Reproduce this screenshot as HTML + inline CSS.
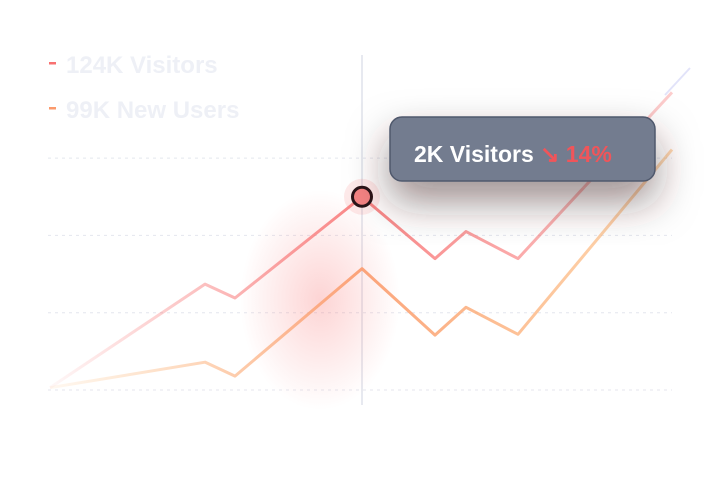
<!DOCTYPE html>
<html><head><meta charset="utf-8"><style>
html,body{margin:0;padding:0;background:#fff;width:724px;height:496px;overflow:hidden}
svg{display:block;font-family:"Liberation Sans",sans-serif}
</style></head><body>
<svg width="724" height="496" viewBox="0 0 724 496">
<defs>
<linearGradient id="gr" x1="50" y1="0" x2="672" y2="0" gradientUnits="userSpaceOnUse">
<stop offset="0" stop-color="#f87171" stop-opacity="0.05"/><stop offset="0.5" stop-color="#f87171" stop-opacity="0.85"/><stop offset="1" stop-color="#f87171" stop-opacity="0.35"/></linearGradient>
<linearGradient id="go" x1="50" y1="0" x2="672" y2="0" gradientUnits="userSpaceOnUse">
<stop offset="0" stop-color="#fdba74" stop-opacity="0.1"/><stop offset="0.5" stop-color="#fb9a6c" stop-opacity="0.9"/><stop offset="1" stop-color="#fdba74" stop-opacity="0.55"/></linearGradient>
<radialGradient id="glow"><stop offset="0" stop-color="#f87171" stop-opacity="0.3"/><stop offset="1" stop-color="#f87171" stop-opacity="0"/></radialGradient>
<filter id="sh" x="-40%" y="-60%" width="180%" height="260%"><feDropShadow dx="0" dy="20" stdDeviation="20" flood-color="#3a2020" flood-opacity="0.5"/></filter>
</defs>
<g id="grid"></g>
<line x1="362" y1="55" x2="362" y2="405" stroke="#cfd3e0" stroke-width="1"/>
<ellipse cx="320" cy="300" rx="80" ry="110" fill="url(#glow)"/>
<path id="orange" fill="none" stroke="url(#go)" stroke-width="3" stroke-linejoin="round"/>
<path id="red" fill="none" stroke="url(#gr)" stroke-width="3" stroke-linejoin="round"/>
<line x1="665" y1="95" x2="690" y2="68" stroke="#c7c9f5" stroke-width="2" opacity="0.5"/>
<circle id="halo" r="18" fill="#f87171" opacity="0.15"/>
<circle id="pt" r="9.5" fill="#f58383" stroke="#2a1418" stroke-width="3"/>
<g>
<rect x="390" y="117" width="265" height="64" rx="12" fill="#737c8f" stroke="#4f586c" stroke-width="1.5" filter="url(#sh)"/>
<text x="414" y="162" font-size="23" font-weight="600" fill="#fff">2K Visitors <tspan fill="#f0555a" font-weight="700">↘ 14%</tspan></text>
</g>
<g>
<rect x="49" y="62" width="7" height="2.5" fill="#f87171"/>
<text x="66" y="73" font-size="24" font-weight="700" fill="#eef0f6">124K Visitors</text>
<rect x="49" y="107" width="7" height="2.5" fill="#fb9a6c"/>
<text x="66" y="118" font-size="24" font-weight="700" fill="#eef0f6">99K New Users</text>
</g>
</svg>
<script>
const categories=[0,1,2,3,4,5,6,7];
const xPos=[50,205,235,362,435,466,518,672];
const visitors=[0.03,1.37,1.19,2.5,1.7,2.05,1.7,3.85];
const newUsers=[0.03,0.36,0.18,1.57,0.71,1.07,0.72,3.11];
const gridValues=[0,1,2,3];
const y=v=>390-v*77.3;
const x=i=>xPos[i];
const g=document.getElementById('grid');
gridValues.forEach(v=>{const l=document.createElementNS('http://www.w3.org/2000/svg','line');


l.setAttribute('x1',48);l.setAttribute('x2',672);l.setAttribute('y1',y(v));l.setAttribute('y2',y(v));
l.setAttribute('stroke','#e4e6ee');l.setAttribute('stroke-dasharray','3 4');g.appendChild(l);});
const d=a=>a.map((v,i)=>(i?'L':'M')+x(i)+','+y(v)).join('');
document.getElementById('red').setAttribute('d',d(visitors));
document.getElementById('orange').setAttribute('d',d(newUsers));
['pt','halo'].forEach(id=>{const c=document.getElementById(id);c.setAttribute('cx',x(3));c.setAttribute('cy',y(visitors[3]));});
</script>
</body></html>
